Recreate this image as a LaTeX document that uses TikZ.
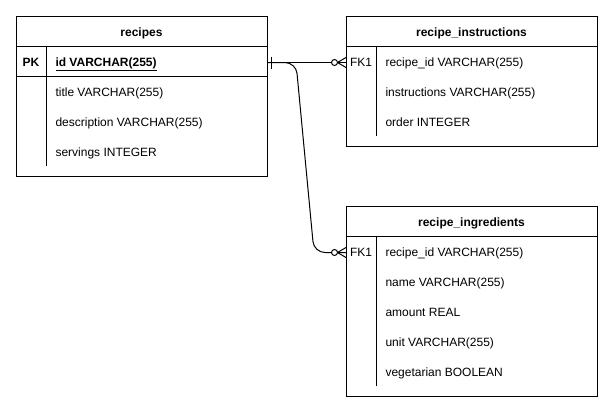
\documentclass[tikz,border=0pt]{standalone}
\usepackage{fontspec}
\setmainfont{Liberation Sans}
\begin{document}
\begin{tikzpicture}[x=1pt,y=-1pt,line width=1pt,
  tbl/.style={draw,line width=1pt,minimum width=251pt,inner sep=0pt,anchor=north west},
  hdr/.style={font=\fontsize{12}{14}\selectfont\bfseries,inner sep=0pt,text height=8.6pt,text depth=0pt},
  fld/.style={font=\fontsize{12}{14}\selectfont,anchor=west,inner sep=0pt,text height=8.6pt,text depth=0pt},
  keycol/.style={font=\fontsize{12}{14}\selectfont,inner sep=0pt,text height=8.6pt,text depth=0pt},
  rule/.style={line width=1pt},
  conn/.style={line width=1pt,rounded corners=11pt}]
\useasboundingbox[fill=white] (0,0) rectangle (613,413);

% ---- recipes ----
\node[tbl,minimum height=160pt] (recipes) at (16,16) {};
\node[hdr] (recipes-h) at (141.5,32.5) {recipes};
\draw[rule] (16,46) -- (267,46);
\draw[rule] (16,76) -- (267,76);
\draw[rule] (46,46) -- (46,166);
\node[keycol,font=\fontsize{12}{14}\selectfont\bfseries] (pk) at (31,62.5) {PK};
\node[fld,font=\fontsize{12}{14}\selectfont\bfseries] (r1) at (55,62.5) {\underline{id VARCHAR(255)}};
\node[fld] (r2) at (55,92.5) {title VARCHAR(255)};
\node[fld] (r3) at (55,122.5) {description VARCHAR(255)};
\node[fld] (r4) at (55,152.5) {servings INTEGER};

% ---- recipe_instructions ----
\node[tbl,minimum height=130pt] (instr) at (346,16) {};
\node[hdr] (instr-h) at (471.5,32.5) {recipe\_instructions};
\draw[rule] (346,46) -- (597,46);
\draw[rule] (376,46) -- (376,136);
\node[keycol] (fka) at (361,62.5) {FK1};
\node[fld] (i1) at (385,62.5) {recipe\_id VARCHAR(255)};
\node[fld] (i2) at (385,92.5) {instructions VARCHAR(255)};
\node[fld] (i3) at (385,122.5) {order INTEGER};

% ---- recipe_ingredients ----
\node[tbl,minimum height=190pt] (ingr) at (346,206) {};
\node[hdr] (ingr-h) at (471.5,222.5) {recipe\_ingredients};
\draw[rule] (346,236) -- (597,236);
\draw[rule] (376,236) -- (376,386);
\node[keycol] (fkb) at (361,252.5) {FK1};
\node[fld] (g1) at (385,252.5) {recipe\_id VARCHAR(255)};
\node[fld] (g2) at (385,282.5) {name VARCHAR(255)};
\node[fld] (g3) at (385,312.5) {amount REAL};
\node[fld] (g4) at (385,342.5) {unit VARCHAR(255)};
\node[fld] (g5) at (385,372.5) {vegetarian BOOLEAN};

% ---- connectors ----
\coordinate (src) at (recipes.east |- pk);
\coordinate (dsta) at (instr.west |- fka);
\coordinate (dstb) at (ingr.west |- fkb);
\draw[conn] (src) -- (dsta);
\draw[conn] (src) -- (296,62.5) -- (314,252.5) -- (dstb);
% one mark
\draw ([xshift=3pt,yshift=6pt]src) -- ([xshift=3pt,yshift=-6pt]src);
% zero-or-many marks
\foreach \d in {dsta,dstb}{
  \draw ([xshift=-8.5pt]\d) -- ([yshift=5pt]\d);
  \draw ([xshift=-8.5pt]\d) -- ([yshift=-5pt]\d);
  \draw[fill=white] ([xshift=-11.5pt]\d) circle (3pt);
}
\end{tikzpicture}
\end{document}
